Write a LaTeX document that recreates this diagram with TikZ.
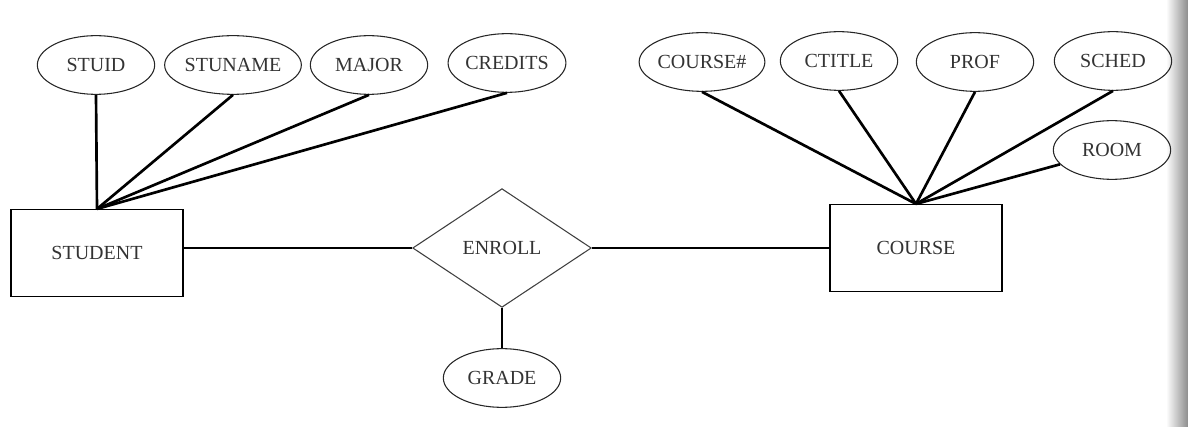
\documentclass[tikz,border=0pt]{standalone}
\usepackage{fontspec}
\setmainfont{Liberation Serif}
\usetikzlibrary{shapes.geometric}

\begin{document}
\begin{tikzpicture}[x=0.75pt, y=-0.75pt, font=\fontsize{15}{17}\selectfont, attr/.style={ellipse, draw=black!85, text=black!80, line width=0.8pt, minimum width=88pt, minimum height=44pt, inner sep=0pt}, entity/.style={rectangle, draw=black, text=black!80, line width=1.1pt, minimum width=129pt, minimum height=65pt}, rel/.style={diamond, draw=black!75, text=black!80, line width=0.8pt, minimum width=134pt, minimum height=89pt, inner sep=0pt}, link/.style={draw=black, line width=2pt}]
        \useasboundingbox (0,0) rectangle (1188,427);
        \shade[left color=white, right color=black!45] (1166,0) rectangle (1188,427);

        \node[entity] (student) at (97,253) {STUDENT};
        \node[rel] (enroll) at (502,248) {ENROLL};
        \node[entity] (course) at (916,248) {COURSE};
        \node[attr] (grade) at (502,378) {GRADE};

        \node[attr] (stuid) at (96,65) {STUID};
        \node[attr] (stuname) at (233,65) {STUNAME};
        \node[attr] (major) at (369,65) {MAJOR};
        \node[attr] (credits) at (507,63) {CREDITS};

        \node[attr] (coursenum) at (702,62) {COURSE\#};
        \node[attr] (ctitle) at (839,61) {CTITLE};
        \node[attr] (prof) at (975,62) {PROF};
        \node[attr] (sched) at (1113,61) {SCHED};
        \node[attr] (room) at (1112,150) {ROOM};

        \path (enroll.west) edge [link] (enroll.west -| student.east)
            (enroll) edge [link] (course)
            (enroll) edge [link] (grade)
            (stuid.south) edge [link] (student.north)
            (stuname.south) edge [link] (student.north)
            (major.south) edge [link] (student.north)
            (credits.south) edge [link] (student.north)
            (coursenum.south) edge [link] (course.north)
            (ctitle.south) edge [link] (course.north)
            (prof.south) edge [link] (course.north)
            (sched.south) edge [link] (course.north)
            (room) edge [link] (course.north);
    \end{tikzpicture}
\end{document}
